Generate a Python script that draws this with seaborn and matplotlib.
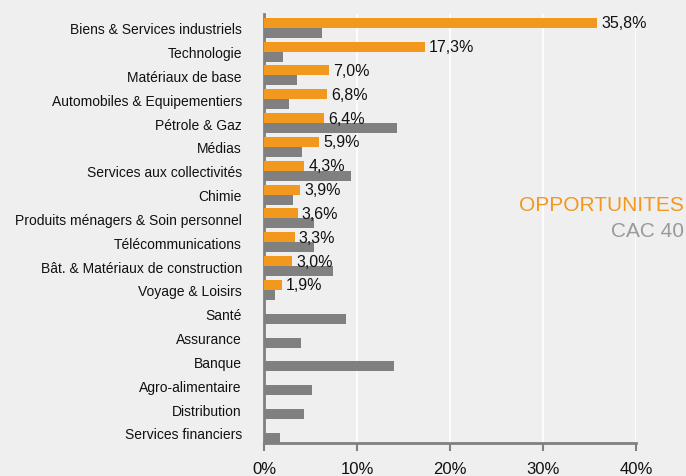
import numpy as np
import pandas as pd
import matplotlib
matplotlib.use("Agg")
import matplotlib.pyplot as plt
import seaborn as sns

# --- data ---
sectors = [
    "Biens & Services industriels", "Technologie", "Matériaux de base",
    "Automobiles & Equipementiers", "Pétrole & Gaz", "Médias",
    "Services aux collectivités", "Chimie", "Produits ménagers & Soin personnel",
    "Télécommunications", "Bât. & Matériaux de construction", "Voyage & Loisirs",
    "Santé", "Assurance", "Banque", "Agro-alimentaire", "Distribution",
    "Services financiers",
]
opportunites = [35.8, 17.3, 7.0, 6.8, 6.4, 5.9, 4.3, 3.9, 3.6, 3.3, 3.0, 1.9,
                np.nan, np.nan, np.nan, np.nan, np.nan, np.nan]
cac40 = [6.2, 2.0, 3.5, 2.7, 14.3, 4.1, 9.4, 3.1, 5.4, 5.4, 7.4, 1.2,
         8.8, 4.0, 14.0, 5.2, 4.3, 1.7]
series = ["OPPORTUNITES", "CAC 40"]
x_ticks = [0, 10, 20, 30, 40]

ORANGE = "#F3981F"
GREY = "#808080"
BG = "#EEEFEE"

df = pd.DataFrame({
    "secteur": sectors * 2,
    "serie": [series[0]] * len(sectors) + [series[1]] * len(sectors),
    "poids": opportunites + cac40,
})

sns.set_style("white", rc={"axes.facecolor": BG, "figure.facecolor": BG})
plt.rcParams["font.family"] = ["Liberation Sans", "DejaVu Sans"]

fig = plt.figure(figsize=(6.86, 4.77), dpi=100)
ax = fig.add_axes([0.385, 0.0692, 0.542, 0.8994])

sns.barplot(data=df, y="secteur", x="poids", hue="serie",
            order=sectors, hue_order=series,
            palette=[ORANGE, GREY], width=0.84, errorbar=None,
            orient="h", saturation=1, linewidth=0, ax=ax, zorder=3)

ax.bar_label(ax.containers[0], fmt=lambda v: f"{v:.1f}%".replace(".", ","),
             padding=3, fontsize=11.5, color="#111111")

ax.set_xlim(0, 40)
ax.set_ylim(len(sectors) - 0.5 - 0.08, -0.58)
ax.set_xticks(x_ticks)
ax.set_xticklabels([f"{t}%" for t in x_ticks], fontsize=12, color="#111111")
ax.tick_params(axis="x", direction="out", length=6, width=1.5, color=GREY, pad=7, bottom=True)
ax.tick_params(axis="y", length=0, pad=16, labelsize=10, labelcolor="#111111")
ax.xaxis.grid(True, color="white", linewidth=1.2, zorder=0)
ax.set_axisbelow(True)
ax.set_xlabel("")
ax.set_ylabel("")

for side in ["top", "right"]:
    ax.spines[side].set_visible(False)
for side in ["left", "bottom"]:
    ax.spines[side].set_color(GREY)
    ax.spines[side].set_linewidth(2)

ax.get_legend().remove()
fig.text(0.997, 0.570, "OPPORTUNITES", color=ORANGE, fontsize=15,
         ha="right", va="center")
fig.text(0.997, 0.514, "CAC 40", color="#9A9A9A", fontsize=15,
         ha="right", va="center")

fig.savefig("out.png", dpi=100, facecolor=BG)
